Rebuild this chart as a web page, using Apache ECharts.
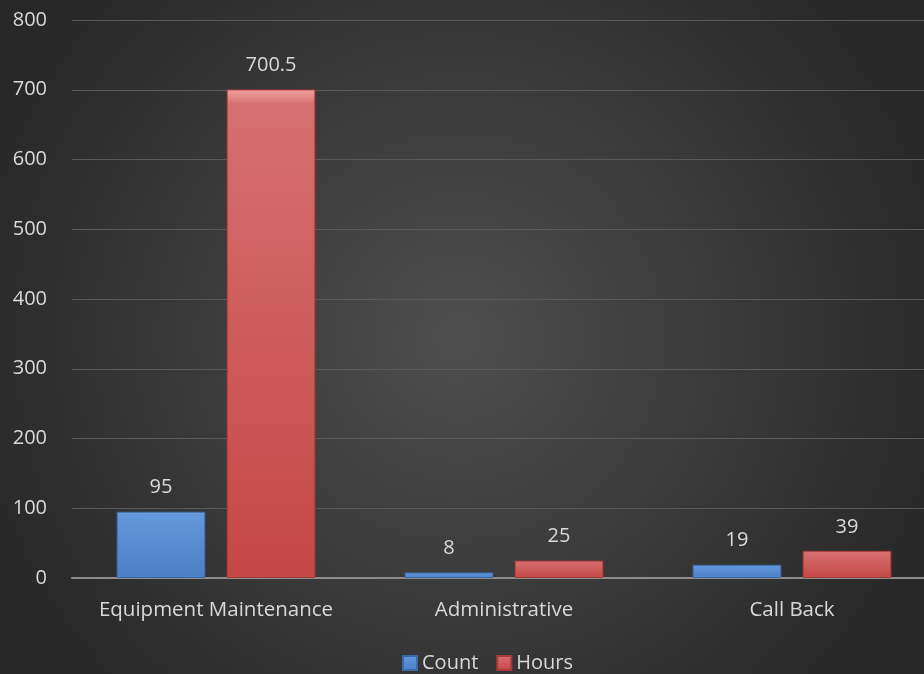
<!DOCTYPE html>
<html><head><meta charset="utf-8">
<script src="https://cdn.jsdelivr.net/npm/echarts@6/dist/echarts.min.js"></script>
<style>html,body{margin:0;padding:0;background:#333;overflow:hidden;}#c{width:936px;height:674px;}</style>
</head><body><div id="c"></div>
<script>
const categories = ["Equipment Maintenance", "Administrative", "Call Back"];
const countValues = [95, 8, 19];
const hoursValues = [700.5, 25, 39];
const yTicks = [0, 100, 200, 300, 400, 500, 600, 700, 800];

const FONT = '"Open Sans", sans-serif';
const chart = echarts.init(document.getElementById('c'));
function grad(hi, top, bottom){
  return new echarts.graphic.LinearGradient(0,0,0,1,[{offset:0,color:hi},{offset:0.03,color:top},{offset:1,color:bottom}]);
}
chart.setOption({
  backgroundColor: new echarts.graphic.RadialGradient(0.49,0.5,0.75,[{offset:0,color:'#4e4e4e'},{offset:1,color:'#282828'}]),
  textStyle:{fontFamily:FONT},
  grid:{left:72, right:0, top:20, bottom:96, containLabel:false},
  legend:{
    top:648, left:397, itemWidth:14, itemHeight:14, itemGap:18,
    textStyle:{color:'#d9d9d9', fontSize:20, fontFamily:FONT},
    data:[{name:'Count', icon:'rect'},{name:'Hours', icon:'rect'}]
  },
  xAxis:{
    type:'category', data:categories,
    axisLine:{lineStyle:{color:'#8c8c8c', width:2}},
    axisTick:{show:false},
    axisLabel:{color:'#d9d9d9', fontSize:20.5, margin:22, interval:0, fontFamily:FONT}
  },
  yAxis:{
    type:'value', min:yTicks[0], max:yTicks[yTicks.length-1], interval:100,
    axisLine:{show:false}, axisTick:{show:false},
    splitLine:{lineStyle:{color:'#5a5a5a', width:1}},
    axisLabel:{color:'#d9d9d9', fontSize:20, margin:25, fontFamily:FONT}
  },
  series:[
    {name:'Count', type:'bar', data:countValues, barCategoryGap:'31%', barGap:'24%',
     itemStyle:{color:grad('#9cc2f0','#6598dc','#4a7fc6'), borderColor:'#3a6aa8', borderWidth:1},
     label:{show:true, position:'top', distance:14, color:'#d9d9d9', fontSize:20, fontFamily:FONT}},
    {name:'Hours', type:'bar', data:hoursValues,
     itemStyle:{color:grad('#f0a2a0','#d67070','#c64646'), borderColor:'#a83a3a', borderWidth:1},
     label:{show:true, position:'top', distance:14, color:'#d9d9d9', fontSize:20, fontFamily:FONT}}
  ]
});
</script></body></html>
